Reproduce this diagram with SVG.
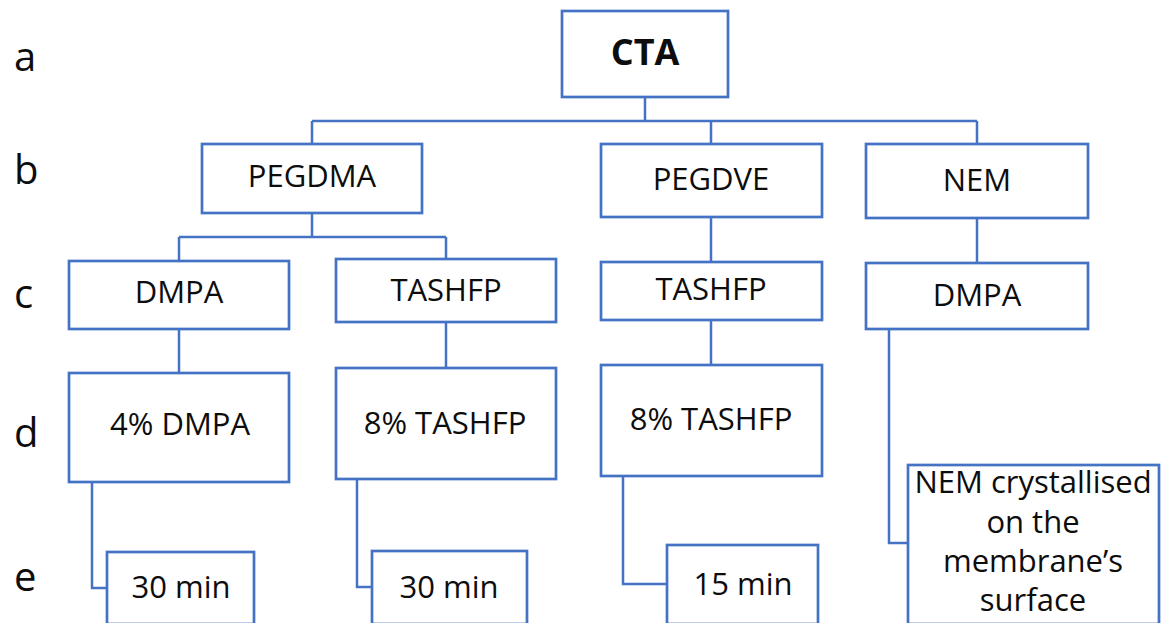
<svg xmlns="http://www.w3.org/2000/svg" width="1161" height="623" viewBox="0 0 1161 623">
  <style>
    .box { fill: #ffffff; stroke: #4472C4; stroke-width: 2.7; }
    .wire { fill: none; stroke: #4472C4; stroke-width: 2.5; }
    .lbl { font-family: "Open Sans", "Noto Sans", sans-serif; font-size: 31px; fill: #0d0d0d; text-anchor: middle; }
    .lvl { font-family: "Open Sans", "Noto Sans", sans-serif; font-size: 40px; fill: #0d0d0d; }
    .title { font-weight: bold; font-size: 36px; }
  </style>
  <rect x="0" y="0" width="1161" height="623" fill="#ffffff"/>

  <!-- level letters -->
  <g id="levels">
    <text class="lvl" x="14" y="71">a</text>
    <text class="lvl" x="14" y="184">b</text>
    <text class="lvl" x="14" y="308">c</text>
    <text class="lvl" x="14" y="447">d</text>
    <text class="lvl" x="14" y="591">e</text>
  </g>

  <!-- connectors -->
  <g id="connectors">
    <path class="wire" d="M645 97 V121 M312 121 H977 M312 121 V144 M711 121 V144 M977 121 V144"/>
    <path class="wire" d="M312 213 V237 M179 237 H446 M179 237 V261 M446 237 V259"/>
    <path class="wire" d="M179 329 V373"/>
    <path class="wire" d="M446 322 V368"/>
    <path class="wire" d="M92 482 V588 H107"/>
    <path class="wire" d="M357 479 V587 H372"/>
    <path class="wire" d="M711 217 V262"/>
    <path class="wire" d="M711 320 V365"/>
    <path class="wire" d="M623 476 V584 H667"/>
    <path class="wire" d="M977 218 V263"/>
    <path class="wire" d="M889 329 V543 H908"/>
  </g>

  <g id="cta">
    <rect class="box" x="562" y="11" width="166" height="86"/>
    <text class="lbl title" x="645" y="65">CTA</text>
  </g>

  <g id="pegdma">
    <rect class="box" x="202" y="144" width="220" height="69"/>
    <text class="lbl" x="312" y="187">PEGDMA</text>
  </g>
  <g id="pegdve">
    <rect class="box" x="601" y="144" width="221" height="73"/>
    <text class="lbl" x="711" y="190">PEGDVE</text>
  </g>
  <g id="nem">
    <rect class="box" x="866" y="144" width="222" height="74"/>
    <text class="lbl" x="977" y="191">NEM</text>
  </g>

  <g id="dmpa-1">
    <rect class="box" x="69" y="261" width="220" height="68"/>
    <text class="lbl" x="179" y="303">DMPA</text>
  </g>
  <g id="tashfp-1">
    <rect class="box" x="336" y="259" width="220" height="63"/>
    <text class="lbl" x="446" y="301">TASHFP</text>
  </g>
  <g id="tashfp-2">
    <rect class="box" x="601" y="262" width="221" height="58"/>
    <text class="lbl" x="711" y="300">TASHFP</text>
  </g>
  <g id="dmpa-2">
    <rect class="box" x="866" y="263" width="222" height="66"/>
    <text class="lbl" x="977" y="306">DMPA</text>
  </g>

  <g id="dmpa-4pct">
    <rect class="box" x="69" y="373" width="220" height="109"/>
    <text class="lbl" x="180" y="435">4% DMPA</text>
  </g>
  <g id="tashfp-8pct-1">
    <rect class="box" x="336" y="368" width="220" height="111"/>
    <text class="lbl" x="445" y="434">8% TASHFP</text>
  </g>
  <g id="tashfp-8pct-2">
    <rect class="box" x="601" y="365" width="221" height="111"/>
    <text class="lbl" x="711" y="430">8% TASHFP</text>
  </g>

  <g id="time-30-1">
    <rect class="box" x="107" y="552" width="147" height="72"/>
    <text class="lbl" x="181" y="598">30 min</text>
  </g>
  <g id="time-30-2">
    <rect class="box" x="372" y="551" width="155" height="73"/>
    <text class="lbl" x="449" y="598">30 min</text>
  </g>
  <g id="time-15">
    <rect class="box" x="667" y="545" width="151" height="79"/>
    <text class="lbl" x="743" y="595">15 min</text>
  </g>
  <g id="nem-crystallised">
    <rect class="box" x="908" y="465" width="251" height="159"/>
    <text class="lbl" x="1033" y="493">NEM crystallised</text>
    <text class="lbl" x="1033" y="533">on the</text>
    <text class="lbl" x="1033" y="572">membrane’s</text>
    <text class="lbl" x="1033" y="611">surface</text>
  </g>
</svg>
